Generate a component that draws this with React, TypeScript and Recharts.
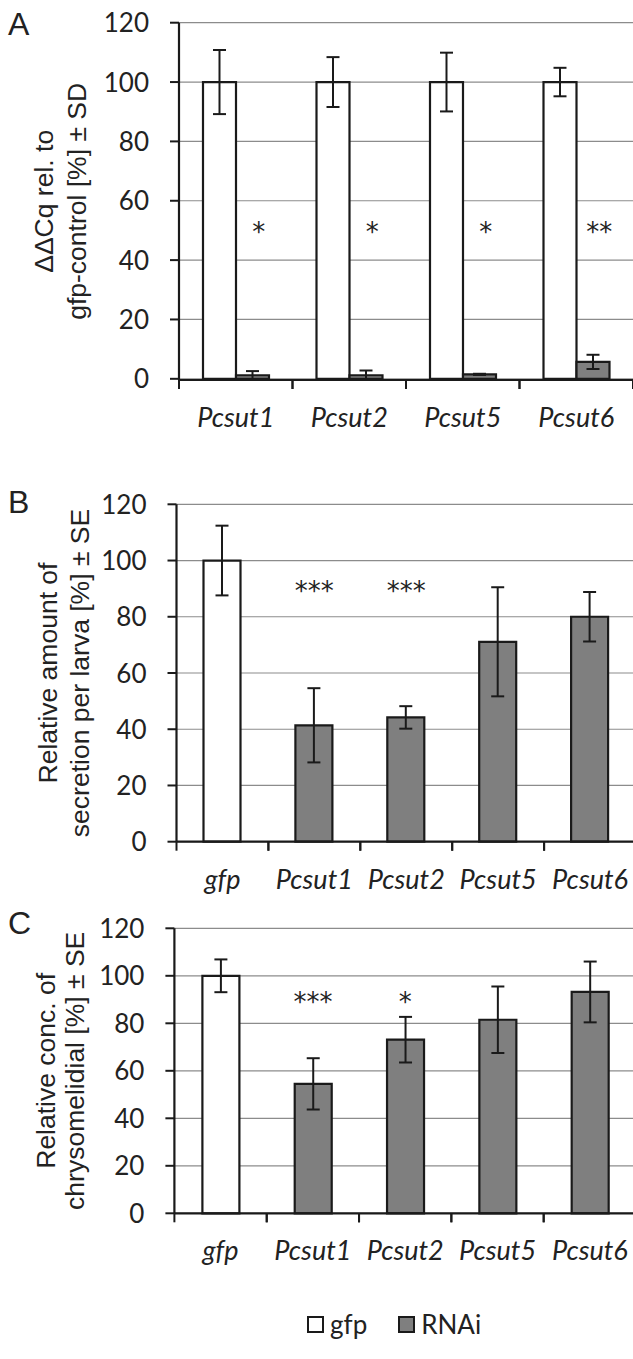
import React from 'react';
import { BarChart, Bar, XAxis, YAxis, CartesianGrid, ErrorBar, Cell, ReferenceDot } from 'recharts';

const genesA = ['Pcsut1', 'Pcsut2', 'Pcsut5', 'Pcsut6'];
const gfpA = [100, 100, 100, 100];
const gfpErrA = [10.8, 8.4, 9.9, 4.8];
const rnaiA = [1.2, 1.2, 1.5, 5.7];
const rnaiErrA = [1.4, 1.6, 0.2, 2.4];
const starsA = ['*', '*', '*', '**'];

const groupsBC = ['gfp', 'Pcsut1', 'Pcsut2', 'Pcsut5', 'Pcsut6'];
const valuesB = [100, 41.4, 44.2, 71.1, 80.0];
const errB = [12.4, 13.2, 4.0, 19.4, 8.8];
const starsB = ['', '***', '***', '', ''];
const valuesC = [100, 54.5, 73.1, 81.5, 93.2];
const errC = [6.9, 10.8, 9.6, 14.0, 12.8];
const starsC = ['', '***', '*', '', ''];

const yTicks = [0, 20, 40, 60, 80, 100, 120];
const seriesNames = ['gfp', 'RNAi'];

const titleA = ['\u0394\u0394Cq rel. to', 'gfp-control [%] \u00b1 SD'];
const titleB = ['Relative amount of', 'secretion per larva [%] \u00b1 SE'];
const titleC = ['Relative conc. of', 'chrysomelidial [%] \u00b1 SE'];

const AXIS = '#1a1a1a';
const TXT = '#222';
const GRID = '#8c8c8c';
const WHITE = '#ffffff';
const GREY = '#7f7f7f';
const NUM_FONT = 'Lato, sans-serif';
const TITLE_FONT = '"Liberation Sans", Arial, sans-serif';
const STAR_FONT = '"DejaVu Sans", sans-serif';

const dataA = genesA.map((g, i) => ({
  name: g, gfp: gfpA[i], gfpErr: gfpErrA[i], rnai: rnaiA[i], rnaiErr: rnaiErrA[i],
}));
const dataB = groupsBC.map((g, i) => ({ name: g, value: valuesB[i], err: errB[i] }));
const dataC = groupsBC.map((g, i) => ({ name: g, value: valuesC[i], err: errC[i] }));

// category label plus tick marks on the category edges (Excel style)
const CatTick = (props: any) => {
  const { x, y, payload } = props;
  const half = payload && payload.offset ? payload.offset : 0;
  return (
    <g>
      <line x1={x - half} x2={x - half} y1={y} y2={y + 9} stroke={AXIS} strokeWidth={2} />
      <line x1={x + half} x2={x + half} y1={y} y2={y + 9} stroke={AXIS} strokeWidth={2} />
      <text x={x} y={y + 47} textAnchor="middle" fill={TXT} fontSize={27} fontStyle="italic" fontFamily={NUM_FONT}>
        {payload.value}
      </text>
    </g>
  );
};

const YTick = (props: any) => {
  const { x, y, payload } = props;
  return (
    <text x={x - 19} y={y + 9.5} textAnchor="end" fill={TXT} fontSize={26} fontFamily={NUM_FONT}>
      {payload.value}
    </text>
  );
};

const YTitle = (props: any) => {
  const { viewBox, lines, xs } = props;
  const cy = viewBox.y + viewBox.height / 2;
  return (
    <g>
      {lines.map((l: string, i: number) => (
        <text
          key={i}
          x={xs[i]}
          y={cy}
          transform={`rotate(-90 ${xs[i]} ${cy})`}
          textAnchor="middle"
          fill={TXT}
          fontSize={26.5}
          fontFamily={TITLE_FONT}
        >
          {l}
        </text>
      ))}
    </g>
  );
};

const StarLabel = (props: any) => {
  const { viewBox, text, dx } = props;
  return (
    <text x={viewBox.x + dx} y={viewBox.y + 14} textAnchor="middle" fill={TXT} fontSize={26} fontFamily={STAR_FONT}>
      {text}
    </text>
  );
};

const axisBits = (yWidth: number, lines: string[], xs: number[]) => [
  <CartesianGrid key="g" vertical={false} stroke={GRID} strokeWidth={1.2} />,
  <XAxis
    key="x"
    dataKey="name"
    height={40}
    interval={0}
    tickLine={false}
    tickSize={0}
    tickMargin={0}
    axisLine={{ stroke: AXIS, strokeWidth: 2.2 }}
    tick={<CatTick />}
  />,
  <YAxis
    key="y"
    width={yWidth}
    domain={[0, 120]}
    ticks={yTicks}
    interval={0}
    tickSize={9}
    tickMargin={2}
    tickLine={{ stroke: AXIS, strokeWidth: 2 }}
    axisLine={{ stroke: AXIS, strokeWidth: 2.2 }}
    tick={<YTick />}
    label={<YTitle lines={lines} xs={xs} />}
  />,
];

const Letter = ({ text, top }: { text: string; top: number }) => (
  <div style={{ position: 'absolute', left: 8, top, fontSize: 32, lineHeight: '32px', fontFamily: TITLE_FONT, color: TXT }}>
    {text}
  </div>
);

const SinglePanel = ({ data, stars, top, height, margin, yWidth, lines, xs }: any) => (
  <div style={{ position: 'absolute', left: 0, top }}>
    <BarChart width={636} height={height} data={data} margin={margin} barCategoryGap={0}>
      {axisBits(yWidth, lines, xs)}
      <Bar dataKey="value" barSize={37} stroke={AXIS} strokeWidth={2.2} isAnimationActive={false}>
        {data.map((d: any, i: number) => (
          <Cell key={i} fill={d.name === 'gfp' ? WHITE : GREY} />
        ))}
        <ErrorBar dataKey="err" width={6.5} stroke={AXIS} strokeWidth={2} direction="y" />
      </Bar>
      {stars.map((s: string, i: number) =>
        s ? (
          <ReferenceDot key={i} x={data[i].name} y={91} r={0} fill="none" stroke="none" label={<StarLabel text={s} dx={0} />} />
        ) : null
      )}
    </BarChart>
  </div>
);

const App = () => {
  return (
    <div style={{ position: 'absolute', left: 0, top: 0, width: 633, height: 1359, overflow: 'hidden', background: '#fff' }}>
      <Letter text="A" top={8} />
      <Letter text="B" top={486} />
      <Letter text="C" top={907} />

      <div style={{ position: 'absolute', left: 0, top: 0 }}>
        <BarChart width={633} height={470} data={dataA} margin={{ top: 22.7, right: 0, left: 0, bottom: 50 }} barGap={0}>
          {axisBits(179, titleA, [53, 86])}
          <Bar dataKey="gfp" name={seriesNames[0]} barSize={33} fill={WHITE} stroke={AXIS} strokeWidth={2.2} isAnimationActive={false}>
            <ErrorBar dataKey="gfpErr" width={6.5} stroke={AXIS} strokeWidth={2} direction="y" />
          </Bar>
          <Bar dataKey="rnai" name={seriesNames[1]} barSize={33} fill={GREY} stroke={AXIS} strokeWidth={2.2} isAnimationActive={false}>
            <ErrorBar dataKey="rnaiErr" width={6.5} stroke={AXIS} strokeWidth={2} direction="y" />
          </Bar>
          {starsA.map((s, i) => (
            <ReferenceDot key={i} x={genesA[i]} y={51} r={0} fill="none" stroke="none" label={<StarLabel text={s} dx={23} />} />
          ))}
        </BarChart>
      </div>

      <SinglePanel
        data={dataB}
        stars={starsB}
        top={470}
        height={440}
        margin={{ top: 34.3, right: 0, left: 0, bottom: 28.3 }}
        yWidth={176.5}
        lines={titleB}
        xs={[57, 89]}
      />
      <SinglePanel
        data={dataC}
        stars={starsC}
        top={890}
        height={400}
        margin={{ top: 38.3, right: 0, left: 0, bottom: 36.7 }}
        yWidth={174.4}
        lines={titleC}
        xs={[55, 84]}
      />

      {/* legend */}
      <div style={{ position: 'absolute', left: 307, top: 1308, display: 'flex', alignItems: 'center', fontFamily: NUM_FONT, fontSize: 26, color: TXT }}>
        {seriesNames.map((n, i) => (
          <div key={n} style={{ display: 'flex', alignItems: 'center', marginRight: i === 0 ? 31 : 0 }}>
            <div style={{ width: 13, height: 13, border: `2px solid ${AXIS}`, background: i === 0 ? WHITE : GREY, marginRight: 6 }} />
            <span>{n}</span>
          </div>
        ))}
      </div>
    </div>
  );
};

export default App;
